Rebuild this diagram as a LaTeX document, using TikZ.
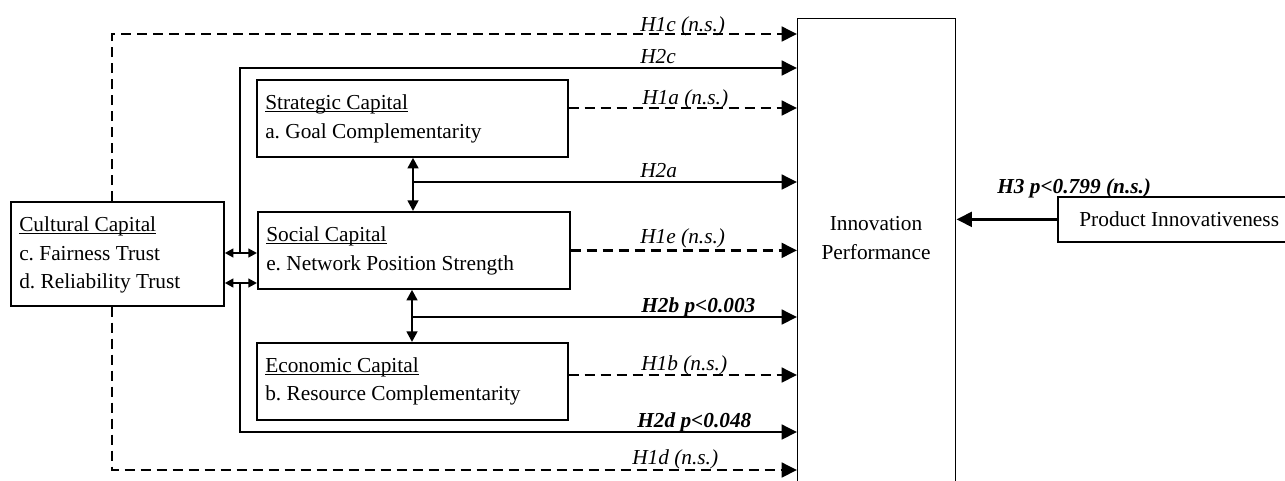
\documentclass[tikz,border=0pt]{standalone}
\usepackage{fontspec}
\setmainfont{Liberation Serif}
\usetikzlibrary{arrows.meta}
\frenchspacing

\begin{document}
\begin{tikzpicture}[x=0.75pt,y=-0.75pt,
    box/.style={draw, line width=1.3pt, inner sep=0pt, anchor=north west, font=\fontsize{16}{21}\selectfont},
    txt/.style={font=\fontsize{16}{21.5}\selectfont, inner sep=0pt},
    lbl/.style={font=\fontsize{16}{21}\selectfont\itshape, anchor=base west, inner sep=0pt},
    lblb/.style={lbl, font=\fontsize{16}{21}\selectfont\bfseries\itshape},
    conn/.style={line width=1.9pt, -{Triangle[length=11.5pt,width=11pt]}},
    ns/.style={conn, dash pattern=on 7.5pt off 4.5pt},
    dbl/.style={line width=1.9pt, {Triangle[length=8pt,width=8pt]}-{Triangle[length=8pt,width=8pt]}},
    dbls/.style={line width=1.7pt, {Triangle[length=6.5pt,width=6.5pt]}-{Triangle[length=6.5pt,width=6.5pt]}}]
    \useasboundingbox (0,0) rectangle (1285,480);
    \clip (0,0) rectangle (1285,480);

    % boxes
    \node[box, minimum width=159.75pt, minimum height=78pt] (cult) at (10,201) {};
    \node[box, minimum width=233.25pt, minimum height=57.75pt] (strat) at (256,79) {};
    \node[box, minimum width=234pt, minimum height=57.75pt] (soc) at (257,211) {};
    \node[box, minimum width=233.25pt, minimum height=57.75pt] (econ) at (256,342) {};
    \node[box, line width=1.1pt, minimum width=118.5pt, minimum height=362pt] (ip) at (797,18) {};
    \node[box, minimum width=182pt, minimum height=33.75pt] (prod) at (1057,196) {Product Innovativeness};

    \node[txt, align=left, anchor=west] (culttxt) at ([xshift=6.75pt,yshift=-6.5pt]cult.west)
        {\underline{\smash{Cultural Capital}}\\c. Fairness Trust\\d. Reliability Trust};
    \node[txt, align=left, anchor=west] (strattxt) at ([xshift=6.75pt,yshift=-6pt]strat.west)
        {\underline{\smash{Strategic Capital}}\\a. Goal Complementarity};
    \node[txt, align=left, anchor=west] (soctxt) at ([xshift=6.75pt,yshift=-6pt]soc.west)
        {\underline{\smash{Social Capital}}\\e. Network Position Strength};
    \node[txt, align=left, anchor=west] (econtxt) at ([xshift=6.75pt,yshift=-5.5pt]econ.west)
        {\underline{\smash{Economic Capital}}\\b. Resource Complementarity};
    \node[txt, align=center] (iptxt) at (876,238) {Innovation\\Performance};

    % helper points
    \coordinate (top) at (112,34);
    \coordinate (bot) at (112,470);
    \coordinate (brtop) at (240,68);
    \coordinate (brbot) at (240,432);
    \coordinate (h1a) at (0,108);
    \coordinate (h1b) at (0,375);
    \coordinate (ja) at (413,182);
    \coordinate (jb) at (412,317);
    \coordinate (ca) at (0,253);
    \coordinate (cb) at (0,283);

    % H1 paths (dashed)
    \draw[ns] (cult.north -| top) -- (top) -- (top -| ip.west);
    \draw[ns] (cult.south -| bot) -- (bot) -- (bot -| ip.west);
    \draw[ns] (strat.east |- h1a) -- (ip.west |- h1a);
    \draw[ns] (soc.east) -- (ip.west |- soc.east);
    \draw[ns] (econ.east |- h1b) -- (ip.west |- h1b);

    % H2 paths
    \draw[conn] (brtop |- ca) -- (brtop) -- (brtop -| ip.west);
    \draw[conn] (brbot |- cb) -- (brbot) -- (brbot -| ip.west);
    \draw[dbl] (strat.south -| ja) -- (soc.north -| ja);
    \draw[conn] (ja) -- (ja -| ip.west);
    \draw[dbl] (soc.south -| jb) -- (econ.north -| jb);
    \draw[conn] (jb) -- (jb -| ip.west);
    \draw[dbls] (cult.east |- ca) -- (soc.west |- ca);
    \draw[dbls] (cult.east |- cb) -- (soc.west |- cb);

    % H3
    \draw[conn] (prod.west) -- (ip.east |- prod.west);

    % labels
    \node[lbl] (l1c) at (640,31) {H1c (n.s.)};
    \node[lbl] (l2c) at (640,63) {H2c};
    \node[lbl] (l1a) at (642,104) {H1a (n.s.)};
    \node[lbl] (l2a) at (640,177) {H2a};
    \node[lbl] (l1e) at (640,243) {H1e (n.s.)};
    \node[lblb] (l2b) at (641,312) {H2b p<0.003};
    \node[lbl] (l1b) at (641,370) {H1b (n.s.)};
    \node[lblb] (l2d) at (637,427) {H2d p<0.048};
    \node[lbl] (l1d) at (632,464) {H1d (n.s.)};
    \node[lblb] (l3) at (997,193) {H3 p<0.799 (n.s.)};
\end{tikzpicture}
\end{document}
